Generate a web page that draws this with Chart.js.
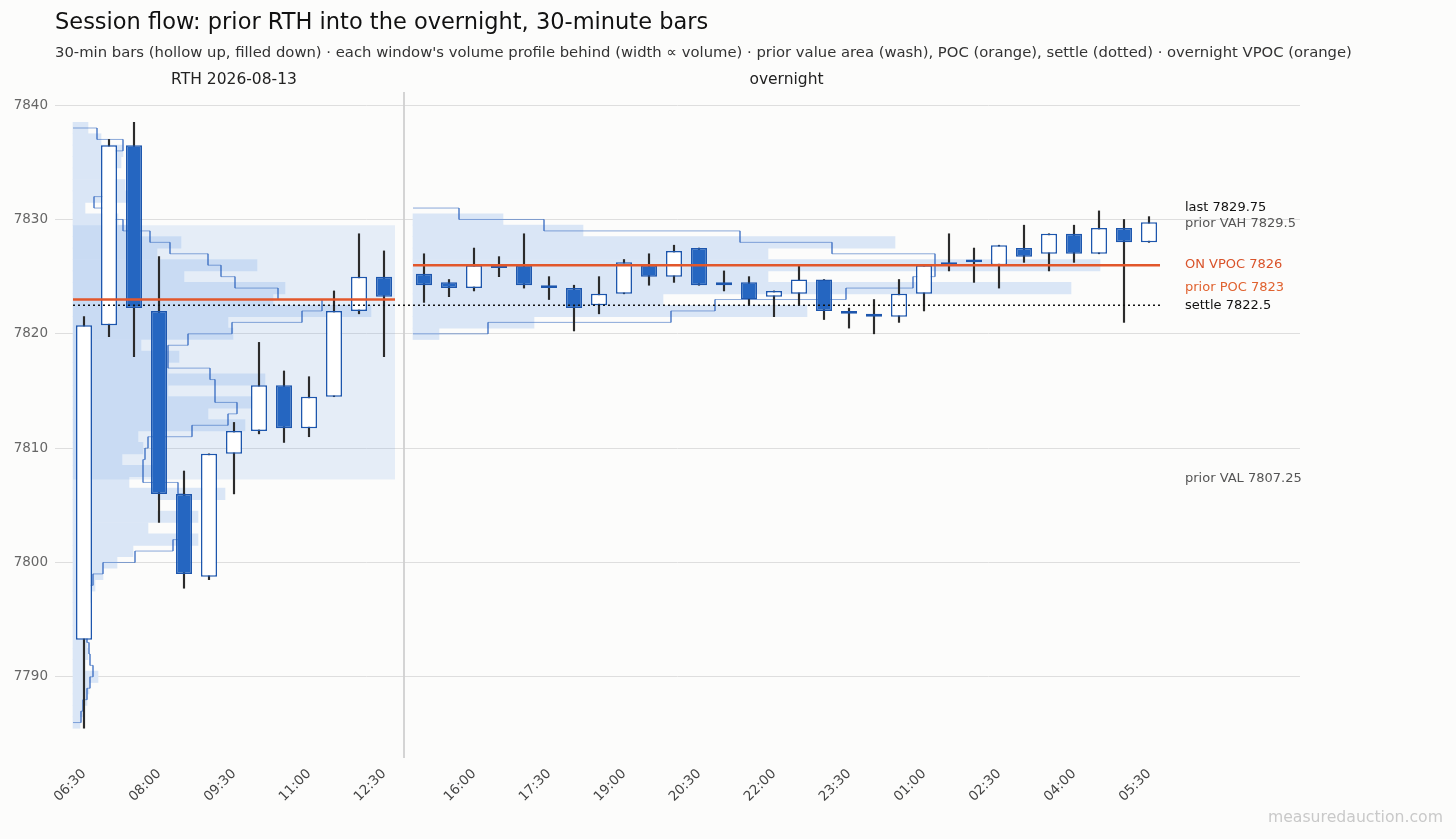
<!DOCTYPE html>
<html>
<head>
<meta charset="utf-8">
<title>Session flow</title>
<script src="https://cdn.jsdelivr.net/npm/chart.js@4.4.1/dist/chart.umd.min.js"></script>
<style>
  html, body { margin: 0; padding: 0; background: #fcfcfb; }
  canvas { display: block; }
</style>
</head>
<body>
<canvas id="chart" width="1456" height="839"></canvas>
<script>
// prior RTH session, 30-min bars
var rthTimes = ["06:30","07:00","07:30","08:00","08:30","09:00","09:30","10:00","10:30","11:00","11:30","12:00","12:30"];
var rthOpen  = [7793.25,7820.75,7836.5,7822,7806,7798.75,7809.5,7811.5,7815.5,7811.75,7814.5,7822,7825];
var rthHigh  = [7821.5,7837,7838.5,7826.75,7808,7809.5,7812.25,7819.25,7816.75,7816.25,7823.75,7828.75,7827.25];
var rthLow   = [7785.5,7819.75,7818,7803.5,7797.75,7798.5,7806,7811.25,7810.5,7811,7814.5,7821.75,7818];
var rthClose = [7820.75,7836.5,7822.25,7806,7799,7809.5,7811.5,7815.5,7811.75,7814.5,7822,7825,7823.25];

// overnight, 30-min bars
var onTimes = ["15:00","15:30","16:00","16:30","17:00","17:30","18:00","18:30","19:00","19:30",
               "20:00","20:30","21:00","21:30","22:00","22:30","23:00","23:30","00:00","00:30",
               "01:00","01:30","02:00","02:30","03:00","03:30","04:00","04:30","05:00","05:30"];
var onOpen  = [7825.25,7824.5,7824,7826,7826,7824,7824,7822.5,7823.5,7826,
               7825,7827.5,7824.25,7824.5,7823.25,7823.5,7824.75,7822,7821.75,7821.5,
               7823.5,7826,7826.25,7826,7827.5,7827,7828.75,7827,7829.25,7828];
var onHigh  = [7827,7824.75,7827.5,7826.75,7828.75,7825,7824.25,7825,7826.5,7827,
               7827.75,7827.5,7825.5,7825,7823.75,7826,7824.75,7822.25,7823,7824.75,
               7826,7828.75,7827.5,7827.75,7829.5,7828.75,7829.5,7830.75,7830,7830.25];
var onLow   = [7822.75,7823.25,7823.75,7825,7824,7823,7820.25,7821.75,7823.5,7824.25,
               7824.5,7824.25,7823.75,7822.5,7821.5,7822.5,7821.25,7820.5,7820,7821,
               7822,7825.5,7824.5,7824,7826.25,7825.5,7826.25,7827,7821,7828];
var onClose = [7824.25,7824,7826,7825.75,7824.25,7824.25,7822.25,7823.5,7826.25,7825,
               7827.25,7824.25,7824.5,7823,7823.75,7824.75,7822,7821.75,7821.5,7823.5,
               7826,7826.25,7826.5,7827.75,7826.75,7828.75,7827,7829.25,7828,7829.75];

// volume profiles (contracts per 1-pt level, levels ascending)
var rthLevelLow = 7786;
var rthProfile = [28,40,56,64,100,48,60,56,56,60,64,72,88,120,176,240,500,300,500,336,
                  608,224,320,196,280,260,688,540,716,380,768,380,424,272,640,620,1192,800,848,444,
                  736,336,432,240,180,48,220,208,168,192,200,112,60];
var rthOutline = [32,40,56,68,80,68,64,56,56,56,56,64,80,120,248,400,432,440,460,448,
                  420,280,280,288,300,476,620,656,568,568,548,380,380,460,636,916,996,820,648,592,
                  540,388,308,200,152,84,128,144,152,160,200,96];
var onLevelLow = 7820;
var onProfile = [104,484,1576,1000,2632,1420,2748,1420,1928,680,360];
var onOutline = [300,1032,1208,1732,2000,2088,2088,1676,1308,524,184];

// reference levels
var priorVAH = 7829.5;
var priorVAL = 7807.25;
var priorPOC = 7823;
var onVPOC = 7826;
var settle = 7822.5;
var lastPrice = 7829.75;
var rthDate = "2026-08-13";

var titleText = "Session flow: prior RTH into the overnight, 30-minute bars";
var subtitleText = "30-min bars (hollow up, filled down) \u00b7 each window's volume profile behind (width \u221d volume) \u00b7 prior value area (wash), POC (orange), settle (dotted) \u00b7 overnight VPOC (orange)";

// layout of the bar axis: one unit per bar, overnight shifted after a gap
var ON_OFFSET = 13.6;
var HALF = 0.44;
var VOL_TO_BARS = 0.01;
var FONT = '"DejaVu Sans", "Liberation Sans", sans-serif';

var rthStart = -HALF, rthEnd = rthTimes.length - 1 + HALF;
var onStart = ON_OFFSET - HALF, onEnd = ON_OFFSET + onTimes.length - 1 + HALF;

var pos = [], opens = [], highs = [], lows = [], closes = [];
rthTimes.forEach(function(t, i) {
    pos.push(i); opens.push(rthOpen[i]); highs.push(rthHigh[i]); lows.push(rthLow[i]); closes.push(rthClose[i]);
});
onTimes.forEach(function(t, i) {
    pos.push(ON_OFFSET + i); opens.push(onOpen[i]); highs.push(onHigh[i]); lows.push(onLow[i]); closes.push(onClose[i]);
});

var tickPos = [], tickText = [];
rthTimes.forEach(function(t, i) { if (i % 3 === 0) { tickPos.push(i); tickText.push(t); } });
onTimes.forEach(function(t, i) { if (i % 3 === 2) { tickPos.push(ON_OFFSET + i); tickText.push(t); } });

var profileBars = function(levelLow, vols, x0) {
    return vols.map(function(v, i) {
        return { y: levelLow + i, x: [x0, x0 + v * VOL_TO_BARS] };
    });
};

var outlinePoints = function(levelLow, vols, x0) {
    var pts = [];
    var top = levelLow + vols.length;
    pts.push({ x: x0, y: top });
    for (var i = vols.length - 1; i >= 0; i--) {
        var w = x0 + vols[i] * VOL_TO_BARS;
        pts.push({ x: w, y: levelLow + i + 1 });
        pts.push({ x: w, y: levelLow + i });
    }
    pts.push({ x: x0, y: levelLow });
    return pts;
};

var hline = function(x0, x1, v) { return [{ x: x0, y: v }, { x: x1, y: v }]; };

var Y_MIN = 7782.9, Y_MAX = 7841.15, X_MIN = -1.16, X_MAX = 48.64;

var sessionText = {
    id: "sessionText",
    afterDraw: function(chart) {
        var ctx = chart.ctx, xs = chart.scales.x, ys = chart.scales.y;
        ctx.save();
        ctx.textBaseline = "middle";
        ctx.textAlign = "left";
        ctx.fillStyle = "#111";
        ctx.font = "22.5px " + FONT;
        ctx.fillText(titleText, 55, 23);
        ctx.fillStyle = "#333";
        ctx.font = "14.8px " + FONT;
        ctx.fillText(subtitleText, 55, 53);

        ctx.textAlign = "center";
        ctx.fillStyle = "#222";
        ctx.font = "15.5px " + FONT;
        ctx.fillText("RTH " + rthDate, xs.getPixelForValue((rthStart + rthEnd) / 2), 80);
        ctx.fillText("overnight", xs.getPixelForValue((onStart + onEnd) / 2), 80);

        var lx = xs.getPixelForValue(onEnd) + 25;
        var refs = [
            ["last " + lastPrice, lastPrice, "#111", -15],
            ["prior VAH " + priorVAH, priorVAH, "#555", -2],
            ["ON VPOC " + onVPOC, onVPOC, "#d9532a", -1],
            ["prior POC " + priorPOC, priorPOC, "#e0622f", -12],
            ["settle " + settle, settle, "#111", 0],
            ["prior VAL " + priorVAL, priorVAL, "#555", -1]
        ];
        ctx.textAlign = "left";
        ctx.font = "13px " + FONT;
        refs.forEach(function(r) {
            ctx.fillStyle = r[2];
            ctx.fillText(r[0], lx, ys.getPixelForValue(r[1]) + r[3]);
        });

        ctx.textAlign = "right";
        ctx.fillStyle = "#c9c9c9";
        ctx.font = "15.7px " + FONT;
        ctx.fillText("measuredauction.com", 1443, 818);
        ctx.restore();
    }
};

// profile is opaque so levels butt together; the value-area wash sits on top with alpha
var washColor = "rgba(120,165,230,0.17)";
var profileColor = "#dae6f6";
var outlineColor = "rgba(45,100,190,0.55)";
var upColor = "#ffffff", downColor = "#2566c1", edgeColor = "#1d56ad";
var pocColor = "#e2572b";

var datasets = [
    {
        type: "bar", label: "RTH profile", order: 9, indexAxis: "y",
        xAxisID: "xp", yAxisID: "yp", grouped: false,
        data: profileBars(rthLevelLow, rthProfile, rthStart),
        backgroundColor: profileColor, barPercentage: 1, categoryPercentage: 1
    },
    {
        type: "bar", label: "ON profile", order: 9, indexAxis: "y",
        xAxisID: "xp", yAxisID: "yp", grouped: false,
        data: profileBars(onLevelLow, onProfile, onStart),
        backgroundColor: profileColor, barPercentage: 1, categoryPercentage: 1
    },
    {
        type: "line", label: "prior value area", order: 8,
        data: hline(rthStart, rthEnd, priorVAH),
        fill: { value: priorVAL }, backgroundColor: washColor,
        borderWidth: 0, pointRadius: 0
    },
    {
        type: "line", label: "RTH outline", order: 7,
        data: outlinePoints(rthLevelLow, rthOutline, rthStart),
        borderColor: outlineColor, borderWidth: 1, pointRadius: 0, fill: false
    },
    {
        type: "line", label: "ON outline", order: 7,
        data: outlinePoints(onLevelLow, onOutline, onStart),
        borderColor: outlineColor, borderWidth: 1, pointRadius: 0, fill: false
    },
    {
        type: "bar", label: "wicks", order: 5, grouped: false,
        data: pos.map(function(p, i) { return { x: p, y: [lows[i], highs[i]] }; }),
        backgroundColor: "#2b2b2b", barThickness: 1.5
    },
    {
        type: "bar", label: "bodies", order: 4, grouped: false,
        data: pos.map(function(p, i) { return { x: p, y: [opens[i], closes[i]] }; }),
        backgroundColor: pos.map(function(p, i) { return closes[i] >= opens[i] ? upColor : downColor; }),
        borderColor: edgeColor, borderWidth: 1.5, borderSkipped: false,
        barPercentage: 0.64, categoryPercentage: 1
    },
    {
        type: "line", label: "separator", order: 3,
        data: [{ x: (rthEnd + onStart) / 2, y: Y_MIN }, { x: (rthEnd + onStart) / 2, y: Y_MAX }],
        borderColor: "#d0d0d0", borderWidth: 1.8, pointRadius: 0
    },
    {
        type: "line", label: "prior POC", order: 2,
        data: hline(rthStart, rthEnd, priorPOC),
        borderColor: pocColor, borderWidth: 2.5, pointRadius: 0
    },
    {
        type: "line", label: "ON VPOC", order: 2,
        data: hline(onStart, onEnd, onVPOC),
        borderColor: pocColor, borderWidth: 2.5, pointRadius: 0
    },
    {
        type: "line", label: "settle", order: 1,
        data: hline(rthStart, onEnd, settle),
        borderColor: "#111", borderWidth: 1.5, borderDash: [2, 3], pointRadius: 0
    }
];

var yTicks = [7790, 7800, 7810, 7820, 7830, 7840];

new Chart(document.getElementById("chart"), {
    "type": "bar",
    "data": { "datasets": datasets },
    "options": {
        "responsive": false,
        "animation": false,
        "layout": { "padding": { "left": 0, "right": 156, "top": 92, "bottom": 0 } },
        "plugins": { "legend": { "display": false }, "tooltip": { "enabled": false } },
        "scales": {
            "x": {
                "type": "linear", "position": "bottom", "min": X_MIN, "max": X_MAX, "offset": false,
                "grid": { "display": false, "drawTicks": false, "offset": false },
                "border": { "display": false },
                "afterBuildTicks": function(s) { s.ticks = tickPos.map(function(v) { return { value: v }; }); },
                "afterFit": function(s) { s.height = 81; },
                "ticks": {
                    "autoSkip": false, "minRotation": 45, "maxRotation": 45, "padding": 8,
                    "color": "#444", "font": { "family": FONT, "size": 13.5 },
                    "callback": function(v) {
                        for (var i = 0; i < tickPos.length; i++) {
                            if (Math.abs(tickPos[i] - v) < 0.01) return tickText[i];
                        }
                        return "";
                    }
                }
            },
            "y": {
                "type": "linear", "position": "left", "min": Y_MIN, "max": Y_MAX, "offset": false,
                "grid": { "color": "#dedede", "lineWidth": 1, "drawTicks": false },
                "border": { "display": false },
                "afterBuildTicks": function(s) { s.ticks = yTicks.map(function(v) { return { value: v }; }); },
                "afterFit": function(s) { s.width = 55; },
                "ticks": { "padding": 7, "color": "#666", "font": { "family": FONT, "size": 13.5 },
                           "callback": function(v) { return String(v); } }
            },
            "xp": { "type": "linear", "axis": "x", "display": false, "offset": false, "min": X_MIN, "max": X_MAX },
            "yp": { "type": "linear", "axis": "y", "display": false, "offset": false, "min": Y_MIN, "max": Y_MAX,
                    "afterBuildTicks": function(s) { s.ticks = yTicks.map(function(v) { return { value: v }; }); } }
        }
    },
    "plugins": [sessionText]
});
</script>
</body>
</html>
